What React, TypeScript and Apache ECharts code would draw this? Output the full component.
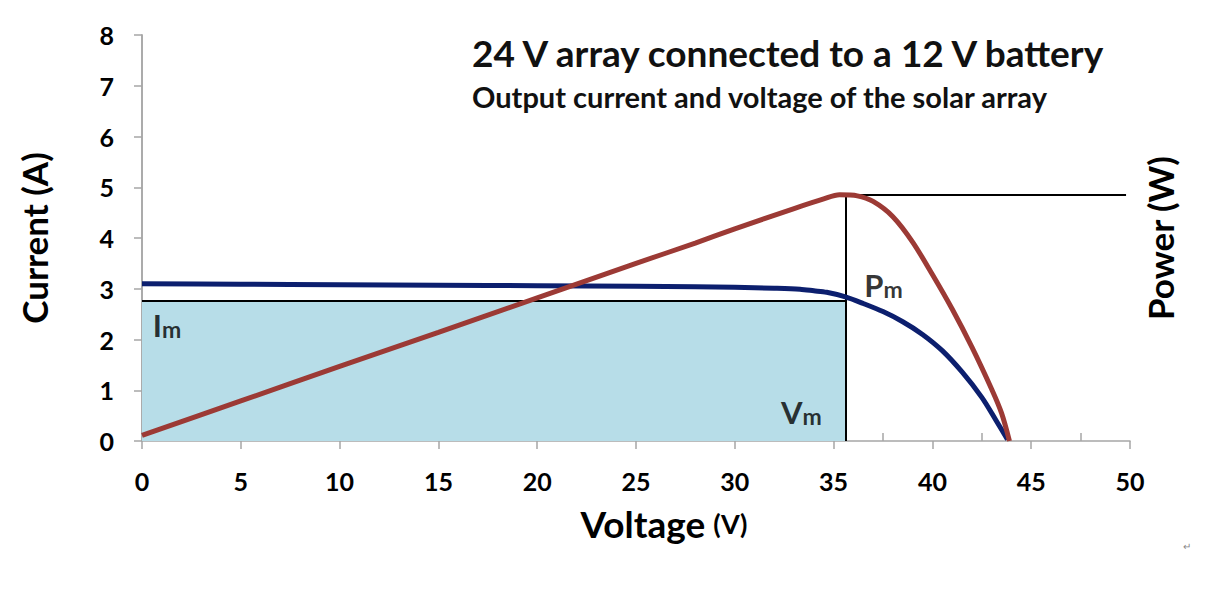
import React, { useEffect, useRef } from "react";
import * as echarts from "echarts";

// Current (A) vs voltage (V)
const currentV = [0, 5, 10, 15, 20, 25, 28, 30, 32, 33.3, 34, 34.65, 35.6, 36.5, 37.5, 38.5, 39.5, 40.5, 41.5, 42.5, 43.2, 43.8];
const currentI = [3.1, 3.09, 3.08, 3.07, 3.06, 3.05, 3.04, 3.03, 3.01, 2.99, 2.96, 2.93, 2.84, 2.71, 2.55, 2.35, 2.1, 1.78, 1.36, 0.86, 0.42, 0.03];

// Power curve (drawn on the same scale, unlabeled right axis)
const powerV = [0, 5, 10, 15, 20, 25, 28, 30, 33, 34.5, 35.3, 36.2, 37, 38, 39, 40, 41, 42, 43, 43.5, 43.9];
const powerP = [0.11, 0.79, 1.47, 2.14, 2.82, 3.5, 3.9, 4.18, 4.58, 4.77, 4.85, 4.83, 4.72, 4.42, 3.92, 3.28, 2.6, 1.85, 1.02, 0.55, 0.0];

// Maximum power point
const Vm = 35.6;
const Im = 2.76;
const Pm = 4.85;
const powerLineEnd = 49.8;

const xTicks = { min: 0, max: 50, interval: 5 };
const yTicks = { min: 0, max: 8, interval: 1 };

const FONT = "Lato";

const pairs = (xs: number[], ys: number[]) => xs.map((x, i) => [x, ys[i]]);

export default function App() {
  const ref = useRef<HTMLDivElement>(null);
  useEffect(() => {
    if (!ref.current) return;
    const chart = echarts.init(ref.current, undefined, { renderer: "svg" });
    const axisGray = "#a6a6a6";
    const subRich = {
      a: { fontSize: 31, fontWeight: "bold", lineHeight: 31, fontFamily: FONT, color: "#000" },
      b: { fontSize: 23, fontWeight: "bold", lineHeight: 23, verticalAlign: "bottom", fontFamily: FONT, color: "#000" },
    };
    chart.setOption({
      animation: false,
      backgroundColor: "#fff",
      textStyle: { fontFamily: FONT },
      title: {
        text: "24 V array connected to a 12 V battery",
        subtext: "Output current and voltage of the solar array",
        left: 472,
        top: 34,
        padding: 0,
        itemGap: 11,
        textStyle: { fontFamily: FONT, fontSize: 37, fontWeight: "bold", color: "#111" },
        subtextStyle: { fontFamily: FONT, fontSize: 29, fontWeight: "bold", color: "#111" },
      },
      grid: { left: 142, right: 84, top: 35, bottom: 151, containLabel: false },
      xAxis: [
        {
          type: "value",
          ...xTicks,
          name: "{v|Voltage}{s| }{u|(V)}",
          nameLocation: "middle",
          nameGap: 64,
          nameTextStyle: {
            padding: [0, 0, 0, 56],
            rich: {
              v: { fontSize: 37, fontWeight: "bold", fontFamily: FONT, color: "#000" },
              s: { width: 8 },
              u: { fontSize: 27, fontWeight: "bold", fontFamily: FONT, color: "#000" },
            },
          },
          axisLine: { show: true, lineStyle: { color: axisGray, width: 1.5 } },
          axisTick: { show: true, length: 8, lineStyle: { color: axisGray, width: 1.5 } },
          axisLabel: { margin: 27, fontSize: 25, fontWeight: "bold", color: "#000", fontFamily: FONT },
          splitLine: { show: false },
        },
        {
          type: "value",
          ...xTicks,
          position: "bottom",
          axisLine: { show: false },
          axisTick: { show: false, inside: true },
          minorTick: { show: true, splitNumber: 2, length: 8, lineStyle: { color: axisGray, width: 1.5 } },
          axisLabel: { show: false },
          splitLine: { show: false },
        },
      ],
      yAxis: [
        {
          type: "value",
          ...yTicks,
          name: "Current (A)",
          nameLocation: "middle",
          nameGap: 91,
          nameRotate: 90,
          nameTextStyle: { fontSize: 35, fontWeight: "bold", color: "#000", fontFamily: FONT },
          axisLine: { show: true, lineStyle: { color: axisGray, width: 1.5 } },
          axisTick: { show: true, length: 8, lineStyle: { color: axisGray, width: 1.5 } },
          axisLabel: { margin: 28, fontSize: 25, fontWeight: "bold", color: "#000", fontFamily: FONT },
          splitLine: { show: false },
        },
        {
          type: "value",
          ...yTicks,
          position: "right",
          name: "Power (W)",
          nameLocation: "middle",
          nameGap: 12,
          nameRotate: 90,
          nameTextStyle: { fontSize: 35, fontWeight: "bold", color: "#000", fontFamily: FONT, verticalAlign: "top" },
          axisLine: { show: true, lineStyle: { color: axisGray, width: 1.5 } },
          axisTick: { show: false },
          axisLabel: { show: false },
          splitLine: { show: false },
        },
      ],
      series: [
        {
          name: "fill",
          type: "line",
          z: 3,
          data: [],
          silent: true,
          markArea: {
            silent: true,
            itemStyle: { color: "#b7dde8", opacity: 1 },
            label: { show: false },
            data: [[{ coord: [0, 0] }, { coord: [Vm, Im] }]],
          },
        },
        {
          name: "refs",
          type: "line",
          z: 4,
          data: [],
          silent: true,
          markLine: {
            silent: true,
            symbol: "none",
            label: { show: false },
            lineStyle: { color: "#000", width: 2, type: "solid" },
            data: [
              [{ coord: [0, Im] }, { coord: [Vm, Im] }],
              [{ coord: [Vm, 0] }, { coord: [Vm, Pm] }],
              [{ coord: [Vm, Pm] }, { coord: [powerLineEnd, Pm] }],
            ],
          },
        },
        {
          name: "Current",
          type: "line",
          z: 5,
          smooth: 0.3,
          showSymbol: false,
          data: pairs(currentV, currentI),
          lineStyle: { color: "#0c1f6e", width: 5 },
        },
        {
          name: "Power",
          type: "line",
          z: 6,
          smooth: 0.3,
          showSymbol: false,
          data: pairs(powerV, powerP),
          lineStyle: { color: "#9c3a35", width: 5 },
        },
        {
          name: "labels",
          type: "scatter",
          z: 7,
          symbolSize: 0,
          silent: true,
          data: [
            { value: [0.55, 2.28], label: { show: true, position: "right", distance: 0, formatter: "{a|I}{b|m}", rich: subRich } },
            { value: [34.4, 0.57], label: { show: true, position: "left", distance: 0, formatter: "{a|V}{b|m}", rich: subRich } },
            { value: [36.55, 3.07], label: { show: true, position: "right", distance: 0, formatter: "{a|P}{b|m}", rich: subRich } },
          ],
        },
      ],
      graphic: [
        { type: "text", left: 1183, top: 541, style: { text: "↵", fontSize: 10, fill: "#888" } },
      ],
    });
    return () => chart.dispose();
  }, []);
  return <div ref={ref} style={{ width: 1214, height: 592, margin: -8 }} />;
}
